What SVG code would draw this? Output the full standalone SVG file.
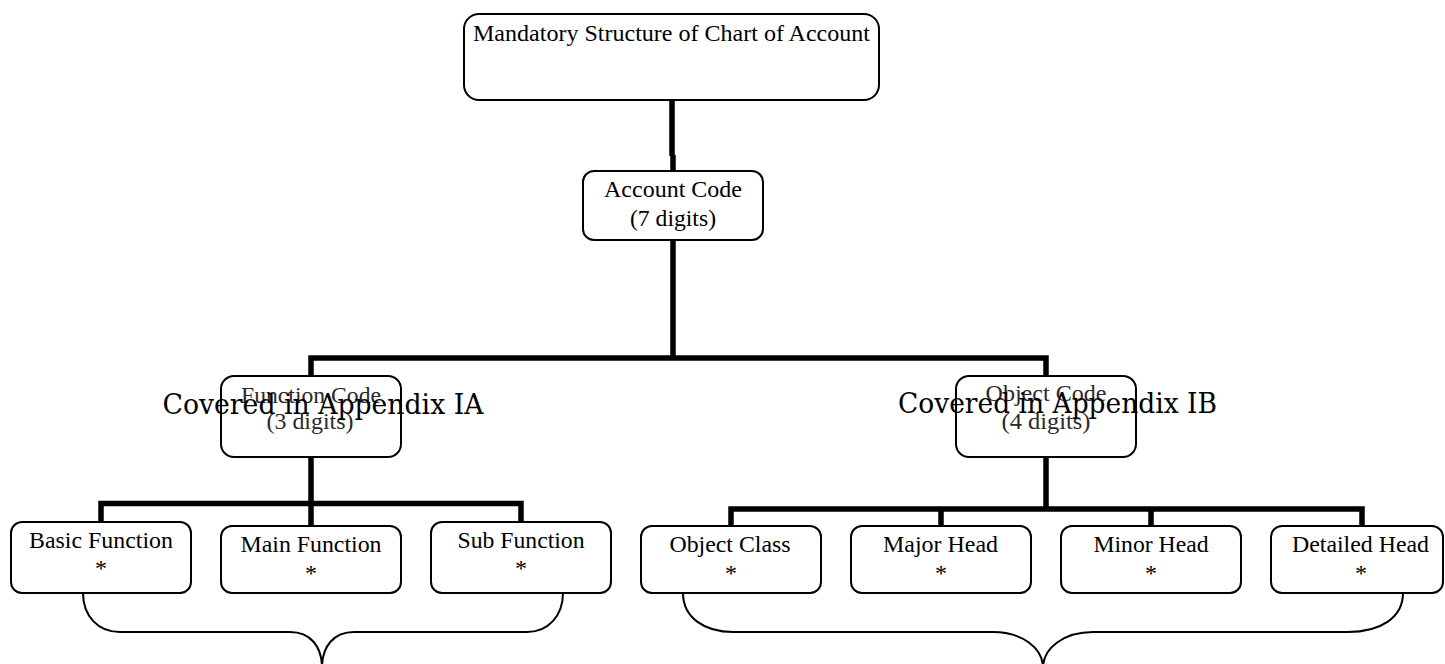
<svg xmlns="http://www.w3.org/2000/svg" width="1445" height="664" viewBox="0 0 1445 664">
<style>
.box{fill:#fff;stroke:#000;stroke-width:2}
.t{font-family:"Liberation Serif","Times New Roman",serif;font-size:24px;fill:#000;text-anchor:middle}
.t2{font-family:"Liberation Serif","Times New Roman",serif;font-size:24px;fill:#2a2a2a;text-anchor:middle}
.cov{font-family:"DejaVu Serif","Liberation Serif",serif;font-size:28px;fill:#000}
.thick{fill:none;stroke:#000;stroke-width:5.5;stroke-linecap:butt;stroke-linejoin:miter}
.brace{fill:none;stroke:#000;stroke-width:2}
</style>
<rect width="1445" height="664" fill="#fff"/>
<g id="connectors">
<path class="thick" d="M672 100 V156 M673 155 V171"/>
<path class="thick" d="M673 240 V358 M311 376 V358 H1046 V376"/>
<path class="thick" d="M311 457 V503.5 M101 522 V503.5 H521 V522 M311 503.5 V526"/>
<path class="thick" d="M1046 457 V509 M731 526 V509 H1362 V526 M941 509 V526 M1151 509 V526"/>
<path class="brace" d="M83 593 C83 616 98 632 120 632 H290 C310 632 322 646 322 668 M322 668 C322 646 334 632 354 632 H527 C548 632 563 616 563 593"/>
<path class="brace" d="M683 593 C683 618 705 632 733 632 H993 C1022 632 1043 648 1043 668 M1043 668 C1043 648 1064 632 1093 632 H1348 C1380 632 1403 618 1403 593"/>
</g>
<g id="node-top">
<rect class="box" x="464" y="14" width="415" height="86" rx="15"/>
<text class="t" x="671.5" y="41" textLength="397" lengthAdjust="spacingAndGlyphs">Mandatory Structure of Chart of Account</text>
</g>
<g id="node-account">
<rect class="box" x="583" y="171" width="180" height="69" rx="11"/>
<text class="t" x="673" y="197" textLength="138" lengthAdjust="spacingAndGlyphs">Account Code</text>
<text class="t" x="673" y="226" textLength="86" lengthAdjust="spacingAndGlyphs">(7 digits)</text>
</g>
<g id="node-function">
<rect class="box" x="221" y="376" width="180" height="81" rx="13"/>
<text class="t2" x="311" y="403" textLength="140" lengthAdjust="spacingAndGlyphs">Function Code</text>
<text class="t2" x="310" y="429" textLength="87" lengthAdjust="spacingAndGlyphs">(3 digits)</text>
</g>
<g id="node-object">
<rect class="box" x="956" y="376" width="180" height="81" rx="13"/>
<text class="t2" x="1046" y="401" textLength="121" lengthAdjust="spacingAndGlyphs">Object Code</text>
<text class="t2" x="1046" y="429" textLength="89" lengthAdjust="spacingAndGlyphs">(4 digits)</text>
</g>
<g id="node-basic">
<rect class="box" x="11" y="522" width="180" height="71" rx="11"/>
<text class="t" x="101" y="548" textLength="144" lengthAdjust="spacingAndGlyphs">Basic Function</text>
<text class="t" x="101" y="576">*</text>
</g>
<g id="node-main">
<rect class="box" x="221" y="526" width="180" height="67" rx="11"/>
<text class="t" x="311" y="552" textLength="141" lengthAdjust="spacingAndGlyphs">Main Function</text>
<text class="t" x="311" y="581">*</text>
</g>
<g id="node-sub">
<rect class="box" x="431" y="522" width="180" height="71" rx="11"/>
<text class="t" x="521" y="548" textLength="127" lengthAdjust="spacingAndGlyphs">Sub Function</text>
<text class="t" x="521" y="576">*</text>
</g>
<g id="node-objclass">
<rect class="box" x="641" y="526" width="180" height="67" rx="11"/>
<text class="t" x="730" y="552" textLength="121" lengthAdjust="spacingAndGlyphs">Object Class</text>
<text class="t" x="731" y="581">*</text>
</g>
<g id="node-major">
<rect class="box" x="851" y="526" width="180" height="67" rx="11"/>
<text class="t" x="940.5" y="552" textLength="115" lengthAdjust="spacingAndGlyphs">Major Head</text>
<text class="t" x="941" y="581">*</text>
</g>
<g id="node-minor">
<rect class="box" x="1061" y="526" width="180" height="67" rx="11"/>
<text class="t" x="1151" y="552" textLength="115" lengthAdjust="spacingAndGlyphs">Minor Head</text>
<text class="t" x="1151" y="581">*</text>
</g>
<g id="node-detailed">
<rect class="box" x="1271" y="526" width="172" height="67" rx="11"/>
<text class="t" x="1360.5" y="552" textLength="137" lengthAdjust="spacingAndGlyphs">Detailed Head</text>
<text class="t" x="1361" y="581">*</text>
</g>
<g id="labels">
<text class="cov" x="162.5" y="414" textLength="321" lengthAdjust="spacingAndGlyphs">Covered in Appendix IA</text>
<text class="cov" x="898" y="413" textLength="319" lengthAdjust="spacingAndGlyphs">Covered in Appendix IB</text>
</g>
</svg>
